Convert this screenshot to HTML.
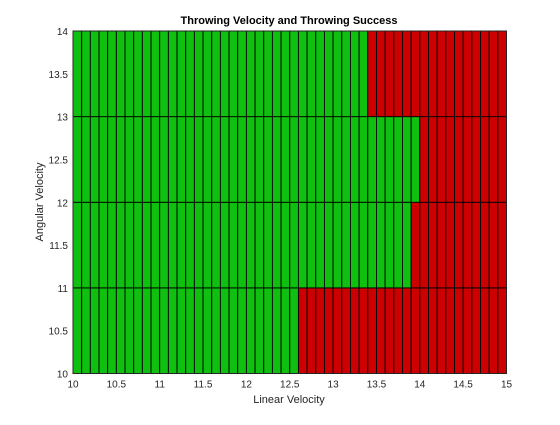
<!DOCTYPE html>
<html><head><meta charset="utf-8"><style>
body{margin:0;background:#fff;}
svg text{font-family:"Liberation Sans",Arial,sans-serif;}
</style></head><body>
<svg id="chart" width="560" height="420" xmlns="http://www.w3.org/2000/svg">
<rect width="560" height="420" fill="#fff"/>
<text x="289" y="24" text-anchor="middle" font-size="11" font-weight="bold" fill="#000">Throwing Velocity and Throwing Success</text>
<g id="cells"></g>
<g id="axes"></g>
<text x="289" y="403" text-anchor="middle" font-size="11" fill="#262626">Linear Velocity</text>
<text transform="translate(43,202) rotate(-90)" text-anchor="middle" font-size="11" fill="#262626">Angular Velocity</text>
</svg>
<script>
// rows: angular velocity bands; threshold = linear velocity where success ends
const rowStarts = [10, 11, 12, 13];
const successThreshold = [12.6, 13.9, 14.0, 13.4];
const xTicks = [10,10.5,11,11.5,12,12.5,13,13.5,14,14.5,15];
const yTicks = [10,10.5,11,11.5,12,12.5,13,13.5,14];
const colStep = 0.1;

const L=73,R=506.5,T=31,B=373.5;
const sx=v=>L+(v-10)/(15-10)*(R-L);
const sy=v=>B-(v-10)/(14-10)*(B-T);
const NS="http://www.w3.org/2000/svg";
const cells=document.getElementById('cells');
rowStarts.forEach((r,i)=>{
  const n=Math.round((15-10)/colStep);
  for(let k=0;k<n;k++){
    const x0=10+k*colStep, x1=x0+colStep;
    const ok = x0 < successThreshold[i]-1e-9;
    const el=document.createElementNS(NS,'rect');
    el.setAttribute('x',sx(x0));el.setAttribute('y',sy(r+1));
    el.setAttribute('width',sx(x1)-sx(x0));el.setAttribute('height',sy(r)-sy(r+1));
    el.setAttribute('fill',ok?'#10c010':'#cc0000');
    el.setAttribute('stroke','#000');el.setAttribute('stroke-width','0.9');
    
    
    cells.appendChild(el);
  }
});
const axes=document.getElementById('axes');
const frame=document.createElementNS(NS,'rect');
frame.setAttribute('x',L);frame.setAttribute('y',T);frame.setAttribute('width',R-L);frame.setAttribute('height',B-T);
frame.setAttribute('fill','none');frame.setAttribute('stroke','#262626');frame.setAttribute('stroke-width','1');


axes.appendChild(frame);
xTicks.forEach(v=>{
  const t=document.createElementNS(NS,'text');
  t.setAttribute('x',sx(v));t.setAttribute('y',B+14);t.setAttribute('text-anchor','middle');
  t.setAttribute('font-size','10');t.setAttribute('fill','#262626');t.textContent=v;
  
  
  axes.appendChild(t);
});
yTicks.forEach(v=>{
  const t=document.createElementNS(NS,'text');
  t.setAttribute('x',L-5);t.setAttribute('y',sy(v)+4);t.setAttribute('text-anchor','end');
  t.setAttribute('font-size','10');t.setAttribute('fill','#262626');t.textContent=v;
  
  
  axes.appendChild(t);
});
</script>
</body></html>
